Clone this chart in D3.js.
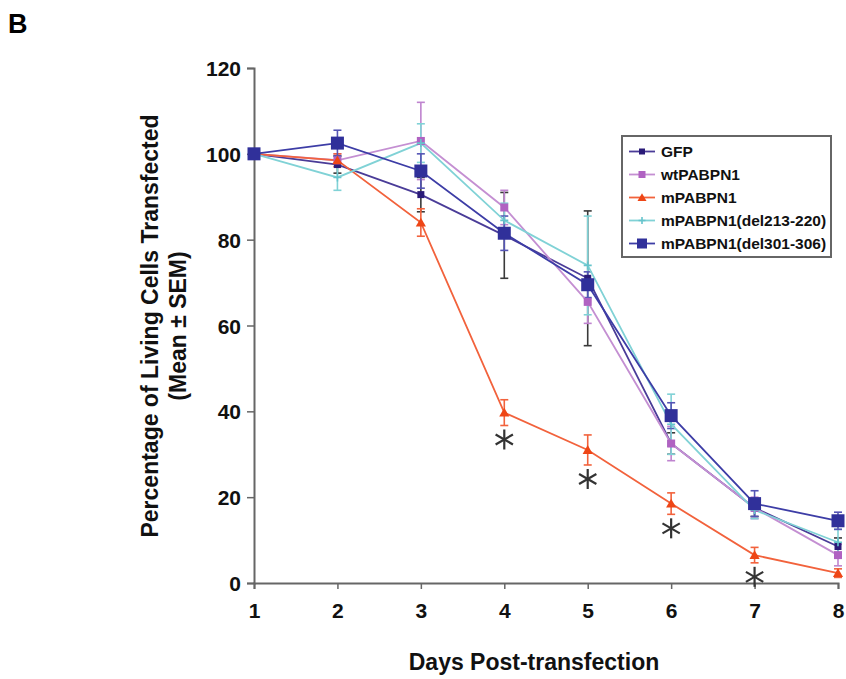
<!DOCTYPE html>
<html>
<head>
<meta charset="utf-8">
<script src="https://cdn.jsdelivr.net/npm/d3@7"></script>
<style>
  body { margin: 0; background: #fff; }
  text { font-family: "Liberation Sans", Arial, sans-serif; }
</style>
</head>
<body>
<div id="chart"></div>
<script>
const days = [1, 2, 3, 4, 5, 6, 7, 8];
const yTicks = [0, 20, 40, 60, 80, 100, 120];

const gfp      = [100, 97.5, 90.5, 81, 71, 32.5, 17.5, 8.5];
const gfpErr   = [0, 2, 4, 10, 15.7, 2.5, 2, 2];
const wt       = [100, 98.5, 103, 87.5, 65.5, 32.5, 17.5, 6.5];
const wtErr    = [0, 1.5, 9, 4, 5, 4, 2.5, 2.5];
const mut      = [100, 98.5, 84, 39.7, 31, 18.5, 6.5, 2.3];
const mutErr   = [0, 1.5, 3.2, 3, 3.5, 2.5, 1.8, 1];
const del213   = [100, 94.5, 102.5, 84.5, 74, 37, 17, 9.5];
const del213Err = [0, 3, 4.5, 4, 11.5, 7, 2, 3];
const del301   = [100, 102.5, 96, 81.5, 69.5, 39, 18.5, 14.5];
const del301Err = [0, 3, 4, 4, 3, 3, 3, 2];

const seriesNames = ['GFP', 'wtPABPN1', 'mPABPN1', 'mPABPN1(del213-220)', 'mPABPN1(del301-306)'];
const significantDays = [4, 5, 6, 7];

const W = 846, H = 679;
const svg = d3.select('#chart').append('svg')
    .attr('width', W).attr('height', H);

const x = d3.scaleLinear().domain([1, 8]).range([254, 838]);
const y = d3.scaleLinear().domain([0, 120]).range([583, 68]);

// style per series, same order as seriesNames
const styles = [
    { vals: gfp, err: gfpErr, line: '#4a3c98', fill: '#2a1b78', errColor: '#3a3a3a', marker: 'square', size: 7 },
    { vals: wt, err: wtErr, line: '#c48fd2', fill: '#b062c2', errColor: '#bf84cf', marker: 'square', size: 8 },
    { vals: mut, err: mutErr, line: '#f2623c', fill: '#ee4616', errColor: '#f2623c', marker: 'triangle', size: 9 },
    { vals: del213, err: del213Err, line: '#80d2d6', fill: '#66c4cc', errColor: '#80d2d6', marker: 'plus', size: 8 },
    { vals: del301, err: del301Err, line: '#3d3da6', fill: '#30309a', errColor: '#5555b5', marker: 'square', size: 13 }
];

// axes
const yAxis = d3.axisLeft(y).tickValues(yTicks).tickSize(7).tickPadding(6).tickFormat(d3.format('d'));
const xAxis = d3.axisBottom(x).tickValues(days).tickSize(6).tickPadding(14).tickFormat(d3.format('d'));

const gy = svg.append('g').attr('transform', `translate(${x(1)},0)`).call(yAxis);
const gx = svg.append('g').attr('transform', `translate(0,${y(0)})`).call(xAxis);
[gy, gx].forEach(g => {
    g.select('.domain').attr('stroke', '#666').attr('stroke-width', 2);
    g.selectAll('.tick line').attr('stroke', '#666').attr('stroke-width', 1.5);
    g.selectAll('.tick text')
        .attr('fill', '#111')
        .style('font-size', '21px')
        .style('font-weight', 'bold')
        .style('font-family', '"Liberation Sans", Arial, sans-serif');
});
gy.selectAll('.tick text').attr('dy', '0.36em');

// error bars
styles.forEach(s => {
    const g = svg.append('g');
    days.forEach((d, i) => {
        if (!s.err[i]) return;
        const top = y(s.vals[i] + s.err[i]), bot = y(s.vals[i] - s.err[i]);
        g.append('line').attr('x1', x(d)).attr('x2', x(d)).attr('y1', top).attr('y2', bot)
            .attr('stroke', s.errColor).attr('stroke-width', 1.6);
        [top, bot].forEach(yy => g.append('line')
            .attr('x1', x(d) - 4).attr('x2', x(d) + 4).attr('y1', yy).attr('y2', yy)
            .attr('stroke', s.errColor).attr('stroke-width', 1.6));
    });
});

const line = d3.line().x((v, i) => x(days[i])).y(v => y(v));

function drawMarker(g, type, size, fill, cx, cy) {
    if (type === 'square') {
        g.append('rect').attr('x', cx - size / 2).attr('y', cy - size / 2)
            .attr('width', size).attr('height', size).attr('fill', fill);
    } else if (type === 'triangle') {
        g.append('path')
            .attr('d', d3.symbol(d3.symbolTriangle, size * size * 0.55)())
            .attr('transform', `translate(${cx},${cy + 1})`)
            .attr('fill', fill);
    } else {
        g.append('path')
            .attr('d', `M${cx - size / 2},${cy}H${cx + size / 2}M${cx},${cy - size / 2}V${cy + size / 2}`)
            .attr('stroke', fill).attr('stroke-width', 1.6);
    }
}

// lines then markers
styles.forEach(s => {
    svg.append('path').attr('d', line(s.vals))
        .attr('fill', 'none').attr('stroke', s.line).attr('stroke-width', 1.8);
});
styles.forEach(s => {
    const g = svg.append('g');
    days.forEach((d, i) => drawMarker(g, s.marker, s.size, s.fill, x(d), y(s.vals[i])));
});

// significance asterisks under the mPABPN1 error bars
significantDays.forEach(d => {
    const i = days.indexOf(d);
    const cx = x(d), cy = y(mut[i] - mutErr[i]) + 14, r = 10;
    const g = svg.append('g').attr('stroke', '#333').attr('stroke-width', 2.2);
    [90, 30, 150].forEach(a => {
        const rad = a * Math.PI / 180;
        g.append('line')
            .attr('x1', cx - r * Math.cos(rad)).attr('y1', cy - r * Math.sin(rad))
            .attr('x2', cx + r * Math.cos(rad)).attr('y2', cy + r * Math.sin(rad));
    });
});

// legend
const legend = svg.append('g').attr('transform', 'translate(622,136)');
legend.append('rect').attr('width', 209).attr('height', 121)
    .attr('fill', '#fff').attr('stroke', '#666').attr('stroke-width', 2);
seriesNames.forEach((name, i) => {
    const s = styles[i];
    const ly = 15.5 + i * 23;
    legend.append('line').attr('x1', 7).attr('x2', 33).attr('y1', ly).attr('y2', ly)
        .attr('stroke', s.line).attr('stroke-width', 1.8);
    drawMarker(legend, s.marker, s.marker === 'square' ? Math.min(s.size, 11) - 1 : s.size - 1, s.fill, 20, ly);
    legend.append('text').attr('x', 39).attr('y', ly).attr('dy', '0.36em')
        .style('font-size', '15.5px').style('font-weight', 'bold').attr('fill', '#111')
        .text(name);
});

// titles
svg.append('text').attr('x', 8).attr('y', 33)
    .style('font-size', '27px').style('font-weight', 'bold').text('B');

svg.append('text').attr('x', (x(1) + x(8)) / 2 - 12).attr('y', 670)
    .attr('text-anchor', 'middle')
    .style('font-size', '23px').style('font-weight', 'bold').attr('fill', '#111')
    .text('Days Post-transfection');

const yTitle = svg.append('text')
    .attr('transform', 'translate(158,326) rotate(-90)')
    .attr('text-anchor', 'middle')
    .style('font-size', '23px').style('font-weight', 'bold').attr('fill', '#111');
yTitle.append('tspan').attr('x', 0).attr('y', 0).text('Percentage of Living Cells Transfected');
yTitle.append('tspan').attr('x', 0).attr('y', 28).text('(Mean ± SEM)');
</script>
</body>
</html>
